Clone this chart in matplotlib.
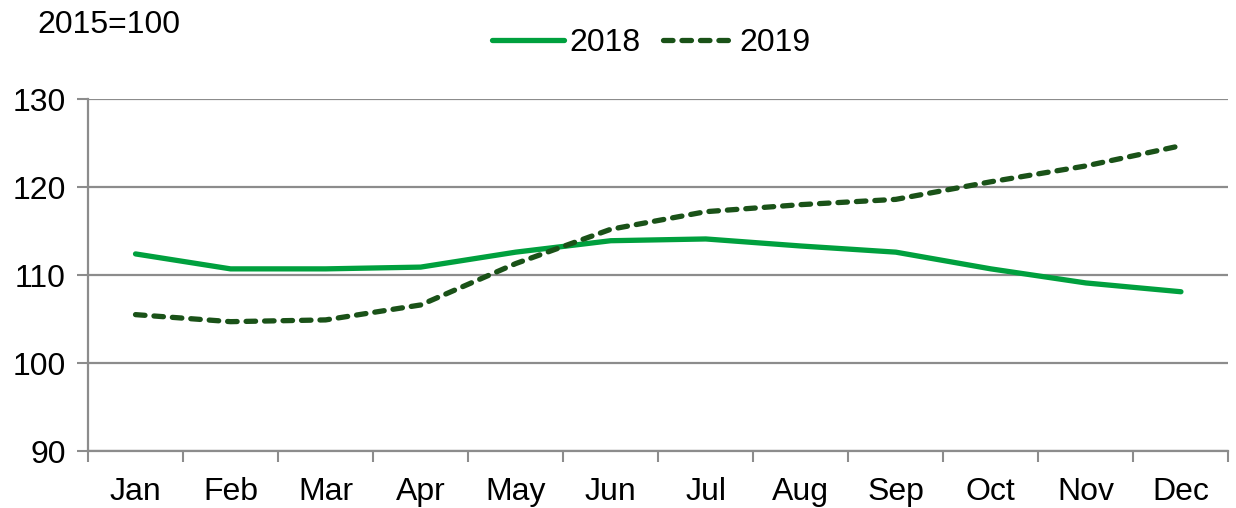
import matplotlib
matplotlib.use('Agg')
import matplotlib.pyplot as plt
import numpy as np

plt.rcParams['font.family'] = ['Liberation Sans', 'DejaVu Sans']

# valores (índice 2015=100)
months = ['Jan', 'Feb', 'Mar', 'Apr', 'May', 'Jun',
          'Jul', 'Aug', 'Sep', 'Oct', 'Nov', 'Dec']
values_2018 = [112.4, 110.7, 110.7, 110.9, 112.6, 113.9,
               114.1, 113.3, 112.6, 110.7, 109.1, 108.1]
values_2019 = [105.5, 104.7, 104.9, 106.6, 111.3, 115.2,
               117.2, 118.0, 118.6, 120.6, 122.4, 124.7]

GRAY = '#8c8c8c'

fig = plt.figure(figsize=(12.36, 5.08), dpi=100)
ax = fig.add_axes([0.0712, 0.1122, 0.9227, 0.6928])

x = np.arange(len(months))
ax.plot(x, values_2018, color='#00a03e', lw=3.8, solid_capstyle='round',
        solid_joinstyle='round', label='2018', zorder=3)
ax.plot(x, values_2019, color='#1a5218', lw=3.8, linestyle=(0, (1.8, 1.7)),
        dash_capstyle='round', label='2019', zorder=3)

ax.set_xlim(-0.5, len(months) - 0.5)
ax.set_ylim(90, 130)
ax.set_yticks([90, 100, 110, 120, 130])
ax.set_xticks(x)
ax.set_xticklabels(months)
ax.set_xticks(np.arange(len(months) + 1) - 0.5, minor=True)
ax.tick_params(axis='x', which='major', length=0, pad=19, labelsize=23)
ax.tick_params(axis='x', which='minor', length=8, width=1.5, color=GRAY)
ax.tick_params(axis='y', length=8, width=1.5, color=GRAY, pad=8, labelsize=23)

ax.grid(axis='y', color=GRAY, lw=1.6)
ax.set_axisbelow(True)
for side in ['top', 'right']:
    ax.spines[side].set_visible(False)
for side in ['left', 'bottom']:
    ax.spines[side].set_color(GRAY)
    ax.spines[side].set_linewidth(1.6)

fig.text(0.03, 0.95, '2015=100', fontsize=23, va='center', ha='left')
fig.legend(loc='center', bbox_to_anchor=(0.527, 0.915), ncol=2, frameon=False,
           fontsize=23, handlelength=2.25, handletextpad=0.15, columnspacing=0.7)

fig.savefig('out.png', dpi=100)
